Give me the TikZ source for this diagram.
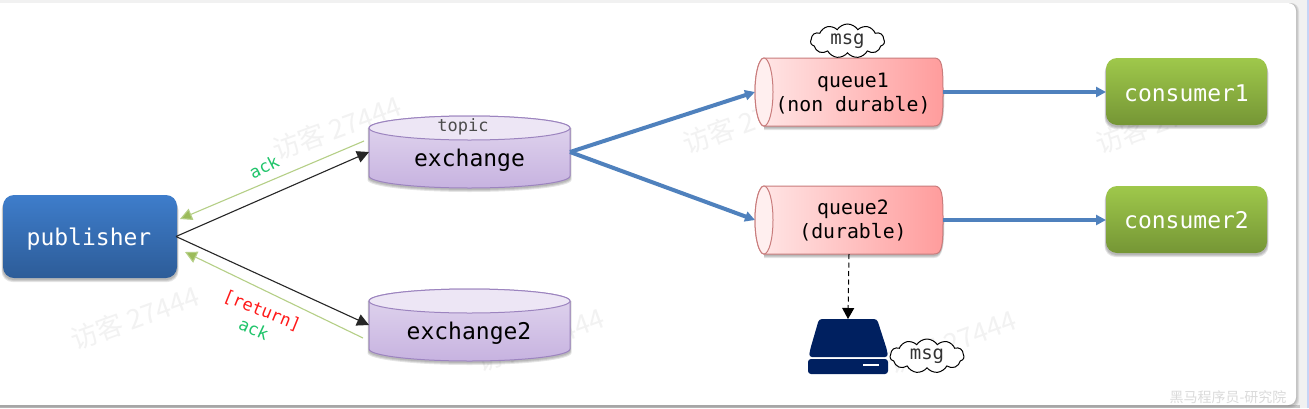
\documentclass[tikz,border=0pt]{standalone}
\usepackage{fontspec}
\setmainfont{Liberation Sans}
\newfontfamily\monof{DejaVu Sans Mono}
\newfontfamily\cjkf{Noto Sans CJK SC}
\usetikzlibrary{arrows.meta,shapes.symbols,calc}
\definecolor{pubT}{HTML}{3E7DCB}
\definecolor{pubB}{HTML}{2D5C98}
\definecolor{conT}{HTML}{9FC84B}
\definecolor{conB}{HTML}{759635}
\definecolor{exT}{HTML}{EDE6F5}
\definecolor{exB}{HTML}{C7B3E0}
\definecolor{exL}{HTML}{9C84BF}
\definecolor{quL}{HTML}{FFE8E8}
\definecolor{quR}{HTML}{FF9C9C}
\definecolor{quD}{HTML}{C97C7C}
\definecolor{flow}{HTML}{4F81BD}
\definecolor{ackline}{HTML}{B5CF86}
\definecolor{ackhead}{HTML}{9BBB59}
\definecolor{disk}{HTML}{002060}
\definecolor{ackgreen}{HTML}{1FC46A}
\definecolor{pagebg}{HTML}{F1F1F1}
\definecolor{stripe}{HTML}{C6D4F6}
\tikzset{
  x=1pt,y=-1pt,
  label box/.style={inner sep=0pt,outer sep=0pt,align=center,font=\monof},
  big text/.style={label box,font=\monof\fontsize{23}{26}\selectfont},
  q text/.style={label box,font=\monof\fontsize{19.8}{24}\selectfont},
  small text/.style={label box,font=\monof\fontsize{17}{20}\selectfont},
  pill shape/.style={rounded corners=11pt},
  soft/.style={black,opacity=.10},
  send/.style={-{Triangle[length=12pt,width=12pt]},line width=1.1pt,black!85},
  ack/.style={-{Triangle[length=12pt,width=12pt,fill=ackhead]},line width=1.1pt,ackline},
  flowline/.style={-{Triangle[length=10pt,width=10pt]},draw=flow},
  drop/.style={-{Triangle[length=11pt,width=12pt]},line width=1pt,dash pattern=on 5pt off 3.5pt,black},
  puff/.style={cloud,cloud puffs=11,cloud puff arc=115,aspect=2.2,draw=black,line width=1pt,fill=white,
    inner sep=0pt,outer sep=0pt,minimum width=74pt,minimum height=34pt,text=black!80,font=\monof\fontsize{19}{22}\selectfont},
  mark text/.style={inner sep=0pt,rotate=20,text=black!5,font=\cjkf\fontsize{27}{30}\selectfont},
}
% vertical cylinder: x1 x2 top bottom
\newcommand\vcyl[4]{%
  \pgfmathsetmacro\cxx{(#1+#2)/2}\pgfmathsetmacro\kw{(#2-#1)/2*.552}%
  \pgfmathsetmacro\ta{#3+12}\pgfmathsetmacro\ba{#4-12}%
  \pgfmathsetmacro\kt{12*.552}%
  \foreach \o/\e in {4/1.5,3/1,2/.5}{%
    \fill[soft] (#1-\e,\ta) -- (#1-\e,\ba+\o) .. controls (#1-\e,\ba+\o+\kt) and (\cxx-\kw,#4+\o) .. (\cxx,#4+\o) .. controls (\cxx+\kw,#4+\o) and (#2+\e,\ba+\o+\kt) .. (#2+\e,\ba+\o) -- (#2+\e,\ta) -- cycle;}%
  \shade[top color=exT!70!exB,bottom color=exB,draw=exL,line width=1pt]
    (#1,\ta) -- (#1,\ba) .. controls (#1,\ba+\kt) and (\cxx-\kw,#4) .. (\cxx,#4)
    .. controls (\cxx+\kw,#4) and (#2,\ba+\kt) .. (#2,\ba) -- (#2,\ta)
    .. controls (#2,\ta-\kt) and (\cxx+\kw,#3) .. (\cxx,#3)
    .. controls (\cxx-\kw,#3) and (#1,\ta-\kt) .. (#1,\ta) -- cycle;
  \fill[exT,draw=exL,line width=1pt]
    (#1,\ta) .. controls (#1,\ta+\kt) and (\cxx-\kw,\ta+12) .. (\cxx,\ta+12)
    .. controls (\cxx+\kw,\ta+12) and (#2,\ta+\kt) .. (#2,\ta)
    .. controls (#2,\ta-\kt) and (\cxx+\kw,#3) .. (\cxx,#3)
    .. controls (\cxx-\kw,#3) and (#1,\ta-\kt) .. (#1,\ta) -- cycle;
}
% horizontal cylinder: x1 x2 top bottom
\newcommand\hcyl[4]{%
  \pgfmathsetmacro\cyy{(#3+#4)/2}\pgfmathsetmacro\kh{(#4-#3)/2*.552}%
  \pgfmathsetmacro\la{#1+9}\pgfmathsetmacro\ra{#2-9}%
  \foreach \o/\e in {4/1.5,3/1,2/.5}{%
    \fill[soft] (\la,#4+\o) -- (\ra,#4+\o) .. controls (#2,#4+\o) and (#2+\e,#4+\o-12) .. (#2+\e,\cyy) -- (\la,\cyy) -- cycle;}%
  \shade[left color=quL,right color=quR,draw=quD,line width=1pt]
    (\la,#3) -- (\ra,#3) .. controls (\ra+8,#3) and (#2,\cyy-\kh-8) .. (#2,\cyy)
    .. controls (#2,\cyy+\kh+8) and (\ra+8,#4) .. (\ra,#4) -- (\la,#4)
    .. controls (\la-5,#4) and (#1,\cyy+\kh) .. (#1,\cyy)
    .. controls (#1,\cyy-\kh) and (\la-5,#3) .. (\la,#3) -- cycle;
  \fill[quL!70!white,draw=quD,line width=1pt]
    (\la,#3) .. controls (\la+5,#3) and (#1+18,\cyy-\kh) .. (#1+18,\cyy)
    .. controls (#1+18,\cyy+\kh) and (\la+5,#4) .. (\la,#4)
    .. controls (\la-5,#4) and (#1,\cyy+\kh) .. (#1,\cyy)
    .. controls (#1,\cyy-\kh) and (\la-5,#3) .. (\la,#3) -- cycle;
}
% rounded box: x1 x2 top bottom colour-top colour-bottom
\newcommand\rbox[6]{%
  \foreach \o/\e in {4/1.5,3/1,2/.5}{%
    \fill[soft,pill shape] (#1-\e,#3+\o) rectangle (#2+\e,#4+\o);}%
  \shade[pill shape,top color=#5,bottom color=#6] (#1,#3) rectangle (#2,#4);
}
\begin{document}
\begin{tikzpicture}
\useasboundingbox (0,0) rectangle (1309,408);
\fill[pagebg] (0,0) rectangle (1309,408);
\fill[stripe] (1307,0) rectangle (1309,408);
\fill[black!22] (0,405) rectangle (1300,408);
\foreach \o in {3,2,1}{\fill[black,opacity=.08,rounded corners=8pt] (-12,3) rectangle (1296+\o,405+\o);}
\fill[white,rounded corners=8pt] (-12,3) rectangle (1296,405);

% watermarks
\node[mark text] (m1) at (337,128) {访客 27444};
\node[mark text] (m2) at (135,318) {访客 27444};
\node[mark text] (m3) at (747,122) {访客 27444};
\node[mark text] (m4) at (1160,122) {访客 27444};
\node[mark text] (m5) at (540,340) {访客 27444};
\node[mark text] (m6) at (952,342) {访客 27444};
\node[inner sep=0pt,text=black!14,font=\cjkf\fontsize{14}{16}\selectfont] (corner) at (1228,397) {黑马程序员-研究院};

% shapes
\rbox{3}{177}{195}{278}{pubT}{pubB}
\vcyl{369}{570}{116}{188}
\vcyl{369}{570}{289}{361}
\hcyl{755}{943}{58}{126}
\hcyl{755}{943}{186}{254}
\rbox{1106}{1267}{58}{125}{conT}{conB}
\rbox{1106}{1267}{186}{253}{conT}{conB}

% disk drive
\fill[disk,rounded corners=3pt] (819,319) -- (877,319) -- (887,350) -- (888,357) -- (809,357) -- (810,350) -- cycle;
\fill[disk,rounded corners=3pt] (808,359) rectangle (888,374);
\fill[white] (863,363.5) rectangle (879,366);

% nodes
\node[big text,text=white,text height=22.5pt,text depth=4.8pt,minimum width=174pt,minimum height=83pt] (publisher) at (89,236.5) {publisher};
\node[big text,minimum width=201pt,minimum height=72pt] (exchange) at (469.5,152) {};
\node[big text] (exlabel) at (469.5,160) {exchange};
\node[small text,text=black!70] (topic) at (463,127) {topic};
\node[big text,minimum width=201pt,minimum height=72pt] (exchangeB) at (469.5,325) {};
\node[big text] (exlabelB) at (469,333) {exchange2};
\node[minimum width=188pt,minimum height=68pt,inner sep=0pt,outer sep=0pt] (queueA) at (849,92) {};
\node[q text] (qlabelA) at (853,93.5) {queue1\\(non durable)};
\node[minimum width=188pt,minimum height=68pt,inner sep=0pt,outer sep=0pt] (queueB) at (849,220) {};
\node[q text] (qlabelB) at (853,220) {queue2\\(durable)};
\node[big text,text=white,text height=18.8pt,text depth=0pt,minimum width=161pt,minimum height=67pt] (consA) at (1186.5,92) {consumer1};
\node[big text,text=white,minimum width=161pt,minimum height=67pt] (consB) at (1186.5,220) {consumer2};
\node[minimum width=80pt,minimum height=54pt,inner sep=0pt,outer sep=0pt] (drive) at (848,346) {};
\node[puff] (msgA) at (847.5,41) {msg};
\node[puff] (msgB) at (927,356) {msg};

% connectors
\coordinate (ackFromA) at (364,141);
\coordinate (ackToA) at (180,219);
\coordinate (ackFromB) at (363,338);
\coordinate (ackToB) at (185,252);
\draw[send] (publisher.east) -- (exchange.west);
\draw[send] (publisher.east) -- (exchangeB.west);
\draw[ack] (ackFromA) -- (ackToA);
\draw[ack] (ackFromB) -- (ackToB);
\draw[flowline,line width=4pt] (exchange.east) -- (queueA.west);
\draw[flowline,line width=4pt] (exchange.east) -- (queueB.west);
\draw[flowline,line width=3.5pt] (queueA.east) -- (consA.west);
\draw[flowline,line width=3.5pt] (queueB.east) -- (consB.west);
\draw[drop] (queueB.south) -- (drive.north);

% labels
\node[small text,text=ackgreen,rotate=27] (ackA) at (264,167) {ack};
\node[small text,text=red!90!white,rotate=-22] (ret) at (262,311) {[return]};
\node[small text,text=ackgreen,rotate=-25] (ackB) at (254,329) {ack};
\end{tikzpicture}
\end{document}
